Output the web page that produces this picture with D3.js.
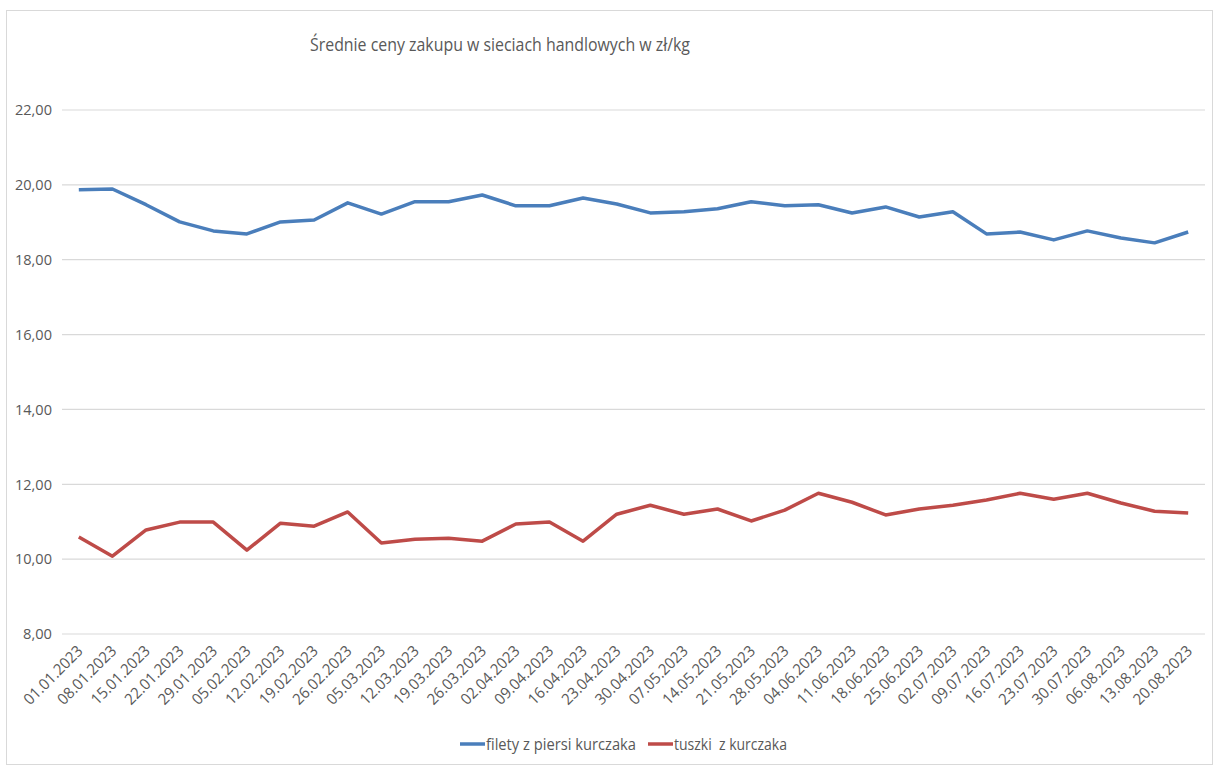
<!DOCTYPE html>
<html>
<head>
<meta charset="utf-8">
<script src="https://cdn.jsdelivr.net/npm/d3@7"></script>
<style>
  body { margin: 0; background: #fff; }
  svg text { font-family: "Open Sans", "Liberation Sans", sans-serif; fill: #595959; }
</style>
</head>
<body>
<svg id="chart" width="1219" height="769"></svg>
<script>
// weekly dates
const dates = ["01.01.2023","08.01.2023","15.01.2023","22.01.2023","29.01.2023","05.02.2023","12.02.2023","19.02.2023","26.02.2023",
  "05.03.2023","12.03.2023","19.03.2023","26.03.2023","02.04.2023","09.04.2023","16.04.2023","23.04.2023","30.04.2023",
  "07.05.2023","14.05.2023","21.05.2023","28.05.2023","04.06.2023","11.06.2023","18.06.2023","25.06.2023",
  "02.07.2023","09.07.2023","16.07.2023","23.07.2023","30.07.2023","06.08.2023","13.08.2023","20.08.2023"];

const filety = [19.87,19.89,19.47,19.01,18.77,18.69,19.01,19.06,19.52,19.22,19.55,19.55,19.73,19.44,19.44,19.65,19.49,19.25,
  19.28,19.36,19.55,19.44,19.47,19.25,19.41,19.14,19.28,18.69,18.74,18.53,18.77,18.58,18.45,18.74];

const tuszki = [10.59,10.08,10.78,10.99,10.99,10.24,10.96,10.88,11.26,10.43,10.53,10.56,10.48,10.94,10.99,10.48,11.20,11.44,
  11.20,11.34,11.02,11.31,11.76,11.52,11.18,11.34,11.44,11.58,11.76,11.60,11.76,11.50,11.28,11.23];

const yTicks = [8, 10, 12, 14, 16, 18, 20, 22];

const seriesNames = ["filety z piersi kurczaka", "tuszki  z kurczaka"];
const colors = ["#4a7ebb", "#be4b48"];

const svg = d3.select("#chart");

// outer frame
svg.append("rect").attr("x", 6.5).attr("y", 10.5).attr("width", 1206).attr("height", 754)
  .attr("fill", "none").attr("stroke", "#d9d9d9");

const left = 62, right = 1205;
const x = d3.scalePoint().domain(dates).range([left, right]).padding(0.5);
const y = d3.scaleLinear().domain([8, 22]).range([634, 110]);

// gridlines
svg.append("g").selectAll("line").data(yTicks).join("line")
  .attr("x1", left).attr("x2", right)
  .attr("y1", d => y(d)).attr("y2", d => y(d))
  .attr("stroke", "#d9d9d9").attr("stroke-width", 1.2);

// y labels
const fmt = d => d.toFixed(2).replace(".", ",");
svg.append("g").selectAll("text").data(yTicks).join("text")
  .attr("x", 52).attr("y", d => y(d)).attr("dy", "0.35em")
  .attr("text-anchor", "end").style("font-size", "15px")
  .attr("textLength", d => d < 10 ? 29 : 37).attr("lengthAdjust", "spacingAndGlyphs")
  .text(fmt);

// x labels
svg.append("g").selectAll("text").data(dates).join("text")
  .attr("transform", d => `translate(${x(d) + 5},${652}) rotate(-45)`)
  .attr("text-anchor", "end").style("font-size", "15.5px")
  .attr("textLength", 76).attr("lengthAdjust", "spacingAndGlyphs")
  .text(d => d);

// lines
const line = d3.line().x((d, i) => x(dates[i])).y(d => y(d));
[filety, tuszki].forEach((s, k) => {
  svg.append("path").datum(s).attr("d", line)
    .attr("fill", "none").attr("stroke", colors[k]).attr("stroke-width", 3.5)
    .attr("stroke-linejoin", "round");
});

// title
svg.append("text").attr("x", 310).attr("y", 51).style("font-size", "19px")
  .attr("textLength", 380).attr("lengthAdjust", "spacingAndGlyphs")
  .text("Średnie ceny zakupu w sieciach handlowych w zł/kg");

// legend
const legX = [460, 648];
const legW = [150, 113];
seriesNames.forEach((n, k) => {
  svg.append("line").attr("x1", legX[k]).attr("x2", legX[k] + 25).attr("y1", 744).attr("y2", 744)
    .attr("stroke", colors[k]).attr("stroke-width", 3.5);
  svg.append("text").attr("x", legX[k] + 26).attr("y", 744).attr("dy", "0.35em")
    .style("font-size", "16px").attr("xml:space", "preserve")
    .attr("textLength", legW[k]).attr("lengthAdjust", "spacingAndGlyphs").text(n);
});
</script>
</body>
</html>
